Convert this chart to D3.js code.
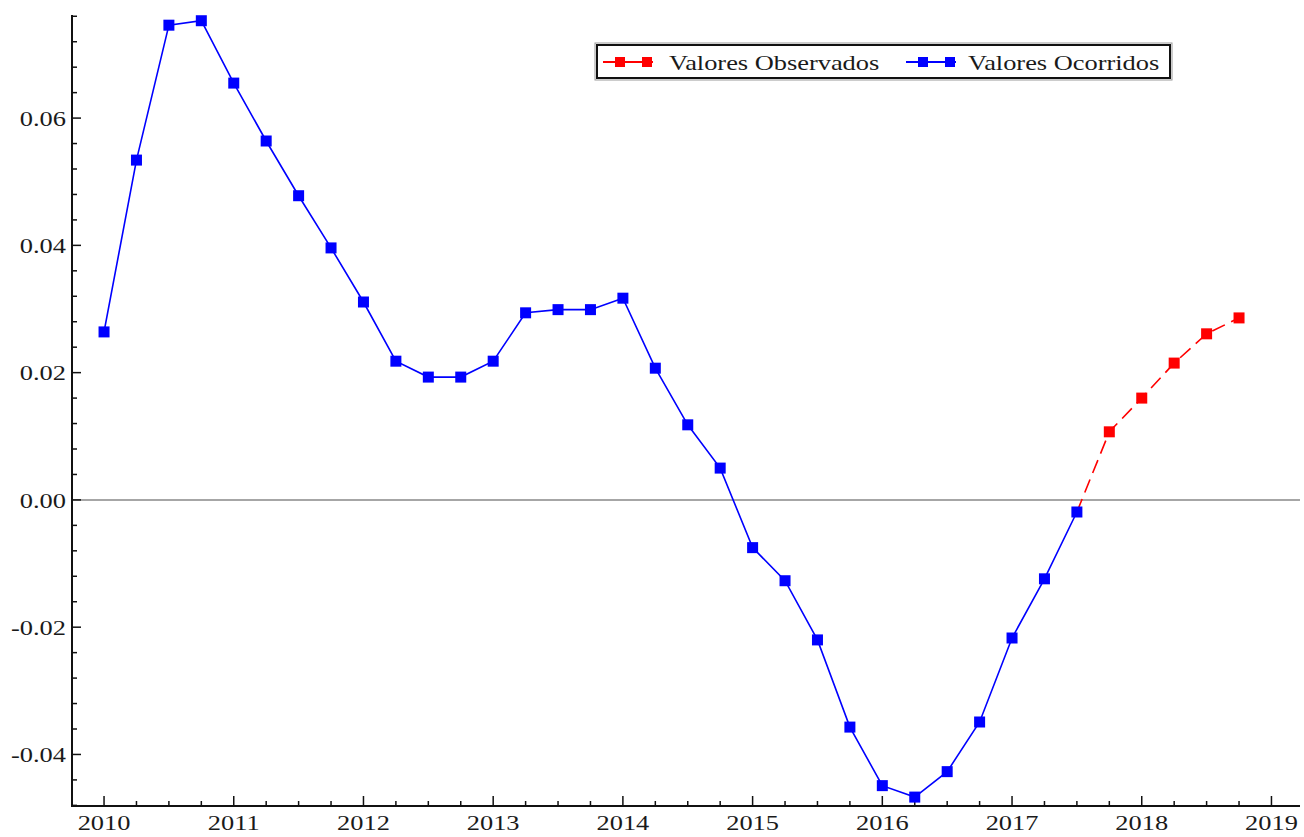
<!DOCTYPE html>
<html>
<head>
<meta charset="utf-8">
<script src="https://cdn.jsdelivr.net/npm/d3@7"></script>
<style>
  html, body { margin: 0; padding: 0; background: #fff; }
  svg { display: block; }
  text { font-family: "Liberation Serif", "Times New Roman", serif; fill: #1a1a1a; }
</style>
</head>
<body>
<svg id="chart" width="1304" height="837"></svg>
<script>
// ---- data ----
const blueDates = [2010.00, 2010.25, 2010.50, 2010.75, 2011.00, 2011.25, 2011.50, 2011.75,
                   2012.00, 2012.25, 2012.50, 2012.75, 2013.00, 2013.25, 2013.50, 2013.75,
                   2014.00, 2014.25, 2014.50, 2014.75, 2015.00, 2015.25, 2015.50, 2015.75,
                   2016.00, 2016.25, 2016.50, 2016.75, 2017.00, 2017.25, 2017.50];
const blueValues = [0.0264, 0.0534, 0.0746, 0.0753, 0.0655, 0.0564, 0.0478, 0.0396,
                    0.0311, 0.0218, 0.0193, 0.0193, 0.0218, 0.0294, 0.0299, 0.0299,
                    0.0317, 0.0207, 0.0118, 0.0050, -0.0075, -0.0127, -0.0220, -0.0357,
                    -0.0449, -0.0467, -0.0427, -0.0349, -0.0217, -0.0124, -0.0019];
const redDates = [2017.75, 2018.00, 2018.25, 2018.50, 2018.75];
const redValues = [0.0107, 0.0160, 0.0215, 0.0261, 0.0286];
const xTickLabels = ["2010", "2011", "2012", "2013", "2014", "2015", "2016", "2017", "2018", "2019"];
const yTickLabels = ["-0.04", "-0.02", "0.00", "0.02", "0.04", "0.06"];
const legendLabels = ["Valores Observados", "Valores Ocorridos"];
const seriesColors = ["#ff0000", "#0000ff"];

// ---- layout ----
const svg = d3.select("#chart");
const xMin = 2009.753, xMax = 2019.22;
const yMin = -0.0481, yMax = 0.0762;
const x = d3.scaleLinear().domain([xMin, xMax]).range([72, 1300]);
const y = d3.scaleLinear().domain([yMin, yMax]).range([806, 15]);
const SX = 1.2; // horizontal stretch of the text in the reference

const blue = blueDates.map((d, i) => ({x: d, y: blueValues[i]}));
const red = redDates.map((d, i) => ({x: d, y: redValues[i]}));

// zero line
svg.append("line")
  .attr("x1", x(xMin)).attr("x2", x(xMax))
  .attr("y1", y(0)).attr("y2", y(0))
  .attr("stroke", "#888").attr("stroke-width", 1.5);

// axes
const axisG = svg.append("g");
axisG.append("line").attr("x1", 72).attr("x2", 72).attr("y1", y(yMax)).attr("y2", y(yMin))
  .attr("stroke", "#111").attr("stroke-width", 2);
axisG.append("line").attr("x1", 71).attr("x2", x(xMax)).attr("y1", y(yMin)).attr("y2", y(yMin))
  .attr("stroke", "#111").attr("stroke-width", 2);

// y ticks
const yMinor = d3.range(-0.048, 0.0765, 0.004).filter(v => v >= yMin && v <= yMax);
yMinor.forEach(v => {
  const major = Math.abs(Math.round(v * 1000) % 20) === 0;
  axisG.append("line").attr("x1", 72).attr("x2", 72 + (major ? 9 : 5))
    .attr("y1", y(v)).attr("y2", y(v)).attr("stroke", "#111").attr("stroke-width", 1.5);
});
yTickLabels.forEach(t => {
  const v = +t;
  axisG.append("text")
    .attr("transform", `translate(66,${y(v)}) scale(${SX},1)`)
    .attr("text-anchor", "end").attr("dominant-baseline", "central")
    .attr("font-size", 22).text(t);
});

// x ticks
const xMinor = d3.range(2009.75, 2019.26, 0.25).filter(v => v >= xMin && v <= xMax);
xMinor.forEach(v => {
  const major = Math.abs(v - Math.round(v)) < 1e-6;
  axisG.append("line").attr("x1", x(v)).attr("x2", x(v))
    .attr("y1", y(yMin)).attr("y2", y(yMin) - (major ? 10 : 5))
    .attr("stroke", "#111").attr("stroke-width", 1.5);
});
xTickLabels.forEach(t => {
  axisG.append("text")
    .attr("transform", `translate(${x(+t)},830) scale(${SX},1)`)
    .attr("text-anchor", "middle")
    .attr("font-size", 22).text(t);
});

// lines
const line = d3.line().x(d => x(d.x)).y(d => y(d.y));
svg.append("path").datum(blue).attr("d", line)
  .attr("fill", "none").attr("stroke", seriesColors[1]).attr("stroke-width", 1.6);
svg.append("path").datum([blue[blue.length - 1]].concat(red)).attr("d", line)
  .attr("fill", "none").attr("stroke", seriesColors[0]).attr("stroke-width", 1.6)
  .attr("stroke-dasharray", "14,7");

// markers
const ms = 11;
svg.append("g").selectAll("rect").data(blue).join("rect")
  .attr("x", d => x(d.x) - ms / 2).attr("y", d => y(d.y) - ms / 2)
  .attr("width", ms).attr("height", ms).attr("fill", seriesColors[1]);
svg.append("g").selectAll("rect").data(red).join("rect")
  .attr("x", d => x(d.x) - ms / 2).attr("y", d => y(d.y) - ms / 2)
  .attr("width", ms).attr("height", ms).attr("fill", seriesColors[0]);

// legend
const lg = svg.append("g");
lg.append("rect").attr("x", 595).attr("y", 43).attr("width", 577).attr("height", 37)
  .attr("fill", "#fff").attr("stroke", "#999").attr("stroke-width", 1);
lg.append("rect").attr("x", 597).attr("y", 45).attr("width", 573).attr("height", 33)
  .attr("fill", "none").attr("stroke", "#111").attr("stroke-width", 2);
const lx = [603, 906];
const tx = [669, 968];
legendLabels.forEach((lab, i) => {
  lg.append("line").attr("x1", lx[i]).attr("x2", lx[i] + 50).attr("y1", 62).attr("y2", 62)
    .attr("stroke", seriesColors[i]).attr("stroke-width", 1.8);
  [lx[i] + 17, lx[i] + 44].forEach(cx => {
    lg.append("rect").attr("x", cx - 5).attr("y", 57).attr("width", 10).attr("height", 10)
      .attr("fill", seriesColors[i]);
  });
  lg.append("text")
    .attr("transform", `translate(${tx[i]},70) scale(${SX},1)`)
    .attr("font-size", 22).text(lab);
});
</script>
</body>
</html>
